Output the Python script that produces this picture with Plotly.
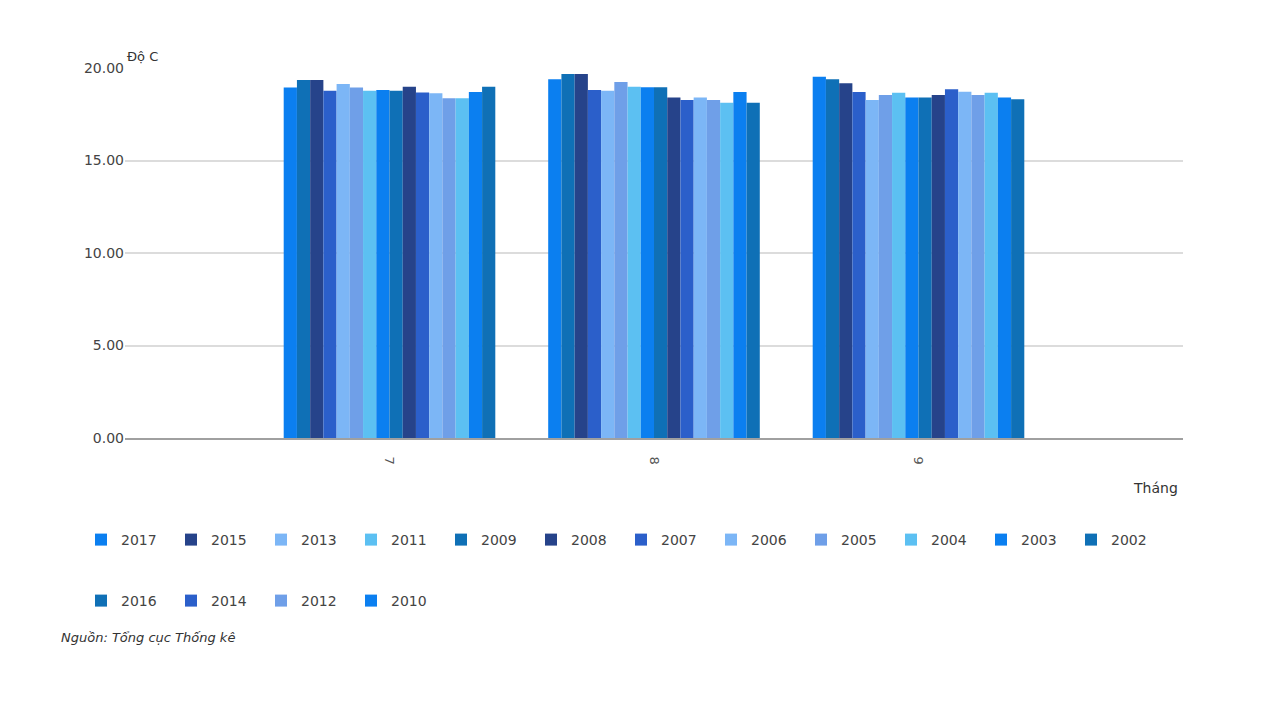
import plotly.graph_objects as go

months = ["7", "8", "9"]
years = ["2017", "2016", "2015", "2014", "2013", "2012", "2011", "2010",
         "2009", "2008", "2007", "2006", "2005", "2004", "2003", "2002"]
values = {
    "2017": [18.94, 19.39, 19.53],
    "2016": [19.35, 19.68, 19.39],
    "2015": [19.35, 19.68, 19.17],
    "2014": [18.77, 18.81, 18.70],
    "2013": [19.14, 18.77, 18.27],
    "2012": [18.94, 19.24, 18.54],
    "2011": [18.77, 18.99, 18.66],
    "2010": [18.81, 18.96, 18.40],
    "2009": [18.77, 18.96, 18.40],
    "2008": [18.99, 18.41, 18.54],
    "2007": [18.68, 18.27, 18.85],
    "2006": [18.63, 18.41, 18.72],
    "2005": [18.36, 18.27, 18.54],
    "2004": [18.36, 18.12, 18.66],
    "2003": [18.70, 18.70, 18.40],
    "2002": [18.99, 18.12, 18.31],
}
palette = ["#0b7ff0", "#0f70b6", "#26438a", "#2b5fca", "#7cb6f6", "#6f9fe8", "#5cc0f2"]
legend_row1a = ["2017", "2015", "2013", "2011", "2009", "2008"]
legend_row1b = ["2007", "2006", "2005", "2004", "2003", "2002"]
legend_row2 = ["2016", "2014", "2012", "2010"]

FONT = "DejaVu Sans"
fig = go.Figure()
for i, y in enumerate(years):
    if y in legend_row1a:
        lg, rank = "legend", legend_row1a.index(y)
    elif y in legend_row1b:
        lg, rank = "legend3", legend_row1b.index(y)
    else:
        lg, rank = "legend2", legend_row2.index(y)
    fig.add_trace(go.Bar(
        x=months, y=values[y], name=y,
        marker=dict(color=palette[i % len(palette)], line=dict(width=0)),
        legend=lg, legendrank=rank + 1,
    ))

legend_common = dict(
    orientation="h", xref="container", yref="container",
    xanchor="left", yanchor="middle",
    font=dict(family=FONT, size=14, color="#444"),
    entrywidth=45, entrywidthmode="pixels",
    itemclick=False, bgcolor="rgba(0,0,0,0)", traceorder="normal",
)
fig.update_layout(
    width=1280, height=720,
    paper_bgcolor="white", plot_bgcolor="white",
    margin=dict(l=125, r=97, t=68, b=282),
    barmode="group", bargap=0.2, bargroupgap=0,
    font=dict(family=FONT, size=14, color="#444"),
    legend=dict(x=81 / 1280, y=1 - 540 / 720, **legend_common),
    legend3=dict(x=621 / 1280, y=1 - 540 / 720, **legend_common),
    legend2=dict(x=81 / 1280, y=1 - 601 / 720, **legend_common),
    xaxis=dict(
        type="category", range=[-1, 3], tickangle=90,
        showgrid=False, showline=True, linecolor="#a0a0a0", linewidth=2,
        ticks="", tickfont=dict(family=FONT, size=13, color="#555"),
        ticklabelstandoff=14,
    ),
    yaxis=dict(
        range=[0, 20], tickvals=[0, 5, 10, 15, 20], tickformat=".2f",
        showgrid=True, gridcolor="#dcdcdc", gridwidth=2,
        zeroline=False, showline=False, ticks="",
        tickfont=dict(family=FONT, size=14, color="#444"),
    ),
    annotations=[
        dict(text="Độ C", xref="paper", yref="paper", x=0.0, y=1.005,
             xanchor="left", yanchor="bottom", showarrow=False,
             font=dict(family=FONT, size=13, color="#333")),
        dict(text="Tháng", xref="paper", yref="paper", x=0.997, y=-0.135,
             xanchor="right", yanchor="middle", showarrow=False,
             font=dict(family=FONT, size=14, color="#333")),
        dict(text="Nguồn: Tổng cục Thống kê", xref="paper", yref="paper",
             x=-0.062, y=-0.54, xanchor="left", yanchor="middle", showarrow=False,
             font=dict(family=FONT, size=13, color="#333", style="italic")),
    ],
)
fig.write_html("out.html")
